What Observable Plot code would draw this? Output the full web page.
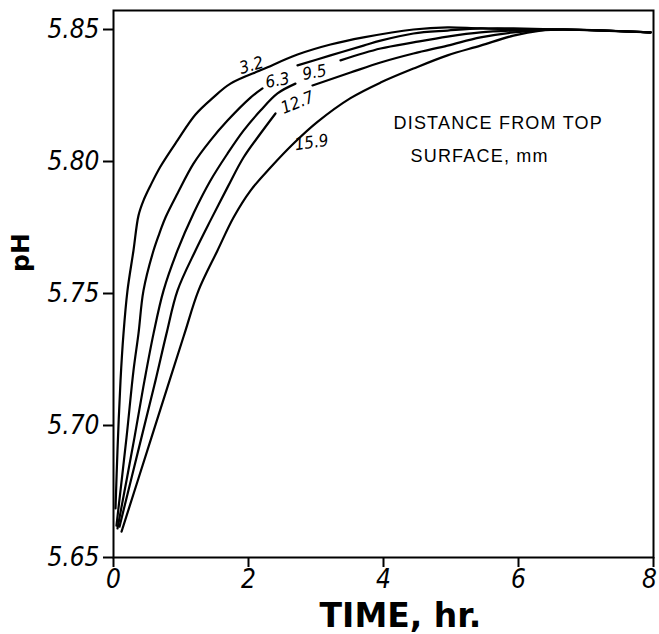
<!DOCTYPE html>
<html><head><meta charset="utf-8">
<script src="https://cdn.jsdelivr.net/npm/d3@7"></script>
<script src="https://cdn.jsdelivr.net/npm/@observablehq/plot@0.6"></script>
<style>body{margin:0;background:#fff}</style>
</head><body><div id="chart"></div>
<script>
// Depth below top surface (mm) for each curve
const depths = ["3.2", "6.3", "9.5", "12.7", "15.9"];

// Time (hr) and pH; null marks a gap where the label sits
const time_3_2 = [0.03,0.059,0.104,0.148,0.207,0.296,0.37,0.444,0.548,0.696,0.948,1.215,1.467,1.733,2.222,2.726,3.215,3.704,4.444,4.948,5.437,5.926,6.667,7.956];
const ph_3_2   = [5.6686,5.6905,5.717,5.7348,5.7511,5.7663,5.7795,5.7852,5.7909,5.7981,5.808,5.8178,5.824,5.8295,5.835,5.8405,5.8443,5.847,5.85,5.8508,5.8504,5.8504,5.85,5.8489];

const time_6_3 = [0.044,0.193,0.296,0.37,0.444,0.593,0.696,0.77,0.948,1.185,1.437,1.689,2.03,2.207,null,2.726,3.215,3.704,3.956,4.444,4.948,5.437,5.926,6.667,7.956];
const ph_6_3   = [5.6621,5.6955,5.7208,5.7348,5.7511,5.7663,5.7739,5.7788,5.7879,5.7992,5.808,5.8155,5.8242,5.8277,null,5.8364,5.8402,5.8439,5.8458,5.8485,5.8496,5.8504,5.85,5.85,5.8489];

const time_9_5 = [0.059,0.311,0.459,0.593,0.741,0.948,1.185,1.437,1.689,1.926,2.178,2.43,2.696,null,3.363,3.956,4.444,4.948,5.437,5.926,6.667,7.956];
const ph_9_5   = [5.661,5.6955,5.717,5.7348,5.7511,5.7663,5.7803,5.7928,5.803,5.8117,5.8193,5.8258,5.8295,null,5.8383,5.8428,5.8451,5.8473,5.8489,5.8496,5.85,5.8489];

const time_12_7 = [0.089,0.415,0.622,0.785,0.948,1.215,1.437,1.689,1.926,2.178,2.4,null,2.948,3.511,3.956,4.444,4.948,5.437,5.926,6.667,7.956];
const ph_12_7   = [5.6617,5.6955,5.717,5.7348,5.7511,5.7663,5.7777,5.7902,5.8015,5.8106,5.8182,null,5.8288,5.8337,5.8375,5.8409,5.8439,5.847,5.8489,5.85,5.8489];

const time_15_9 = [0.119,0.563,0.83,1.052,1.259,1.541,1.778,2.03,2.326,2.667,3.022,3.511,3.956,4.444,4.948,5.437,5.926,6.326,6.667,7.956];
const ph_15_9   = [5.6598,5.6955,5.717,5.7348,5.7511,5.7663,5.7788,5.789,5.7977,5.8068,5.815,5.824,5.8299,5.8352,5.8402,5.8439,5.8477,5.8496,5.85,5.8489];

// Curve label anchors (time, pH)
const labelTime = [2.044, 2.43, 2.978, 2.726, 2.933];
const labelPH   = [5.8364, 5.8307, 5.8337, 5.8223, 5.8072];

// Axis ticks
const xTicks = [0, 2, 4, 6, 8];
const yTicks = [5.65, 5.70, 5.75, 5.80, 5.85];

// Styling (not data)
const labelAngles = [-16, -10, -10, -22, -8];
const numFont = "'DejaVu Sans Condensed', 'Liberation Sans Narrow', 'DejaVu Sans', sans-serif";

const series = [
  [time_3_2, ph_3_2], [time_6_3, ph_6_3], [time_9_5, ph_9_5],
  [time_12_7, ph_12_7], [time_15_9, ph_15_9]
];
const rows = series.flatMap(([ts, ps], i) =>
  ts.map((t, j) => ({depth: depths[i], t, pH: ps[j]})));
const labels = depths.map((d, i) => ({text: d, t: labelTime[i], pH: labelPH[i], angle: labelAngles[i]}));

const chart = Plot.plot({
  width: 659,
  height: 634,
  marginLeft: 113,
  marginRight: 6,
  marginTop: 10,
  marginBottom: 77,
  x: {domain: [0, 8]},
  y: {domain: [5.65, 5.8572]},
  style: {background: "#fff", color: "#000"},
  marks: [
    Plot.frame({stroke: "#000", strokeWidth: 2}),
    Plot.axisY({ticks: yTicks, tickSize: 10, tickPadding: 4, strokeWidth: 2,
      tickFormat: d => d.toFixed(2), label: null,
      fontSize: 26, fontFamily: numFont, fontStyle: "italic"}),
    Plot.axisX({ticks: xTicks, tickSize: 10, tickPadding: 2, strokeWidth: 2,
      tickFormat: d => String(d), label: null,
      fontSize: 26, fontFamily: numFont, fontStyle: "italic"}),
    Plot.line(rows, {x: "t", y: "pH", z: "depth", curve: "catmull-rom",
      stroke: "#000", strokeWidth: 2.2}),
    Plot.text(labels, {x: "t", y: "pH", text: "text", rotate: "angle",
      fontSize: 17, fontFamily: numFont, fontStyle: "italic", fill: "#000"}),
    Plot.text(["DISTANCE FROM TOP"], {x: 4.148, y: 5.8125, text: d => d,
      textAnchor: "start", lineAnchor: "bottom", fontSize: 18,
      fontFamily: "'Liberation Sans', Arial, sans-serif", fill: "#000"}),
    Plot.text(["SURFACE, mm"], {x: 4.4, y: 5.80, text: d => d,
      textAnchor: "start", lineAnchor: "bottom", fontSize: 18,
      fontFamily: "'Liberation Sans', Arial, sans-serif", fill: "#000"}),
    Plot.text(["TIME, hr."], {frameAnchor: "bottom", text: d => d, dx: 17, dy: 69,
      lineAnchor: "bottom", fontSize: 33, fontWeight: "bold",
      fontFamily: "'DejaVu Sans', sans-serif", fill: "#000"}),
    Plot.text(["pH"], {frameAnchor: "left", text: d => d, dx: -93, dy: -12, rotate: -90,
      lineAnchor: "middle", fontSize: 25, fontWeight: "bold",
      fontFamily: "'DejaVu Sans', sans-serif", fill: "#000"})
  ]
});
chart.querySelectorAll("text").forEach(t => {
  const s = t.textContent;
  if (s === "DISTANCE FROM TOP" || s === "SURFACE, mm") t.setAttribute("letter-spacing", "1.2");
  if (s === "8") t.setAttribute("dx", "-4");
});
document.getElementById("chart").append(chart);
</script>
</body></html>
